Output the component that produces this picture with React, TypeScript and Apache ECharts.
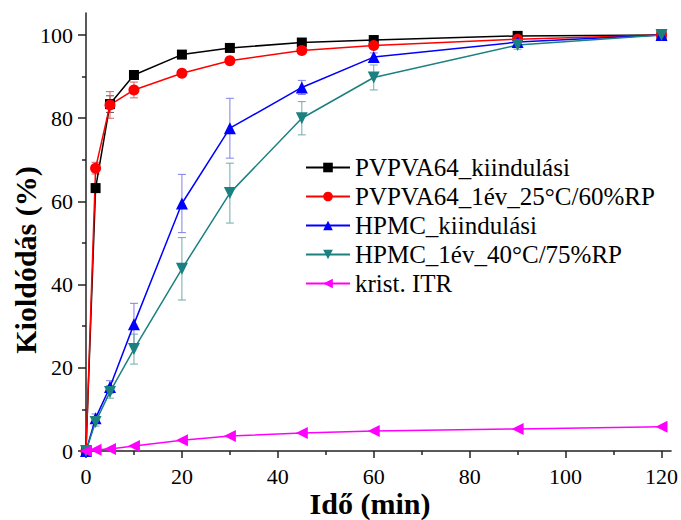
import React, { useEffect, useRef } from "react";
import * as echarts from "echarts";

const xValues = [0, 2, 5, 10, 20, 30, 45, 60, 90, 120];
const seriesNames = [
  "PVPVA64_kiindulási",
  "PVPVA64_1év_25°C/60%RP",
  "HPMC_kiindulási",
  "HPMC_1év_40°C/75%RP",
  "krist. ITR",
];
const pvpvaStart = [0, 63.2, 83.4, 90.4, 95.3, 96.9, 98.2, 98.8, 99.8, 100];
const pvpvaAged = [0, 68, 83.2, 86.8, 90.8, 93.8, 96.3, 97.5, 99, 100];
const hpmcStart = [0, 7.9, 15.4, 30.5, 59.5, 77.6, 87.4, 94.7, 98.3, 100];
const hpmcAged = [0, 7, 14.2, 24.5, 43.8, 62, 80, 89.8, 97.6, 100];
const kristItr = [0, 0.3, 0.5, 1.2, 2.6, 3.6, 4.3, 4.8, 5.3, 5.8];

const errPvpvaStart = [0, 1, 2, 0.6, 0.5, 0.5, 0.5, 0.4, 0.3, 0.2];
const errPvpvaAged = [0, 1.4, 3.2, 1.9, 0.6, 0.5, 0.6, 0.5, 0.4, 0.2];
const errHpmcStart = [0, 1, 1.5, 5, 7, 7.2, 1.7, 1, 0.6, 0.3];
const errHpmcAged = [0, 1, 1.5, 3.6, 7.5, 7.2, 4, 3, 1, 0.3];

const xMajor = [0, 20, 40, 60, 80, 100, 120];
const xMinor = [10, 30, 50, 70, 90, 110];
const yMajor = [0, 20, 40, 60, 80, 100];
const yMinor = [10, 30, 50, 70, 90];

const FONT = "Liberation Serif";

function errData(vals: number[], errs: number[]) {
  return xValues.map((x, i) => [x, vals[i] - errs[i], vals[i] + errs[i]]);
}

function errSeries(vals: number[], errs: number[], color: string) {
  return {
    type: "custom",
    xAxisIndex: 0,
    yAxisIndex: 0,
    z: 1,
    silent: true,
    encode: { x: 0, y: [1, 2] },
    data: errData(vals, errs),
    renderItem: (params: any, api: any) => {
      const x = api.value(0);
      const lo = api.coord([x, api.value(1)]);
      const hi = api.coord([x, api.value(2)]);
      const w = 4;
      const style = { stroke: color, lineWidth: 1 };
      return {
        type: "group",
        children: [
          { type: "line", shape: { x1: lo[0], y1: lo[1], x2: hi[0], y2: hi[1] }, style },
          { type: "line", shape: { x1: lo[0] - w, y1: lo[1], x2: lo[0] + w, y2: lo[1] }, style },
          { type: "line", shape: { x1: hi[0] - w, y1: hi[1], x2: hi[0] + w, y2: hi[1] }, style },
        ],
      };
    },
  };
}

function lineSeries(
  name: string,
  vals: number[],
  color: string,
  symbol: string,
  size: number,
  rotate = 0
) {
  return {
    type: "line",
    name,
    xAxisIndex: 0,
    yAxisIndex: 0,
    z: 3,
    data: xValues.map((x, i) => [x, vals[i]]),
    symbol,
    symbolSize: size,
    symbolRotate: rotate,
    showAllSymbol: true,
    color,
    itemStyle: { color },
    lineStyle: { color, width: 1.5 },
  };
}

export default function App() {
  const ref = useRef<HTMLDivElement>(null);
  useEffect(() => {
    document.body.style.margin = "0";
    const chart = echarts.init(ref.current!, null, { renderer: "svg" });
    const axisLineStyle = { color: "#222", width: 1.5 };
    chart.setOption({
      animation: false,
      backgroundColor: "#fff",
      textStyle: { fontFamily: FONT },
      grid: { left: 86, right: 9, top: 13, bottom: 69 },
      legend: {
        orient: "vertical",
        left: 305,
        top: 155,
        padding: 0,
        itemWidth: 44,
        itemHeight: 12,
        itemGap: 4,
        data: seriesNames,
        textStyle: { fontFamily: FONT, fontSize: 25, color: "#000", lineHeight: 25 },
      },
      xAxis: [
        {
          type: "value",
          min: 0,
          max: 122,
          position: "bottom",
          axisLine: { show: true, lineStyle: axisLineStyle },
          axisTick: { show: true, customValues: xMajor, length: 7, lineStyle: axisLineStyle },
          axisLabel: {
            customValues: xMajor,
            fontFamily: FONT,
            fontSize: 22,
            color: "#000",
            margin: 14,
          },
          splitLine: { show: false },
        },
        {
          type: "value",
          min: 0,
          max: 122,
          position: "bottom",
          axisLine: { show: false },
          axisTick: { show: true, customValues: xMinor, length: 4, lineStyle: axisLineStyle },
          axisLabel: { show: false },
          splitLine: { show: false },
        },
      ],
      yAxis: [
        {
          type: "value",
          min: 0,
          max: 105.3,
          position: "left",
          axisLine: { show: true, lineStyle: axisLineStyle },
          axisTick: { show: true, customValues: yMajor, length: 8, lineStyle: axisLineStyle },
          axisLabel: {
            customValues: yMajor,
            fontFamily: FONT,
            fontSize: 22,
            color: "#000",
            margin: 13,
          },
          splitLine: { show: false },
        },
        {
          type: "value",
          min: 0,
          max: 105.3,
          position: "left",
          axisLine: { show: false },
          axisTick: { show: true, customValues: yMinor, length: 4, lineStyle: axisLineStyle },
          axisLabel: { show: false },
          splitLine: { show: false },
        },
      ],
      graphic: [
        {
          type: "text",
          x: 370,
          y: 503,
          style: {
            text: "Idő (min)",
            font: `bold 30px ${FONT}`,
            fill: "#000",
            textAlign: "center",
            textVerticalAlign: "middle",
          },
        },
        {
          type: "text",
          x: 25,
          y: 260,
          rotation: Math.PI / 2,
          style: {
            text: "Kioldódás (%)",
            font: `bold 30px ${FONT}`,
            fill: "#000",
            textAlign: "center",
            textVerticalAlign: "middle",
          },
        },
      ],
      series: [
        errSeries(pvpvaStart, errPvpvaStart, "#555555"),
        errSeries(pvpvaAged, errPvpvaAged, "#e06060"),
        errSeries(hpmcStart, errHpmcStart, "#8080e8"),
        errSeries(hpmcAged, errHpmcAged, "#70aaaa"),
        lineSeries(seriesNames[0], pvpvaStart, "#000000", "rect", 10),
        lineSeries(seriesNames[1], pvpvaAged, "#ff0000", "circle", 11),
        lineSeries(seriesNames[2], hpmcStart, "#0000ff", "triangle", 12),
        lineSeries(seriesNames[3], hpmcAged, "#1a8080", "triangle", 12, 180),
        lineSeries(seriesNames[4], kristItr, "#ff00ff", "triangle", 12, 90),
      ],
    });
    return () => chart.dispose();
  }, []);
  return <div ref={ref} style={{ width: 681, height: 520 }} />;
}
